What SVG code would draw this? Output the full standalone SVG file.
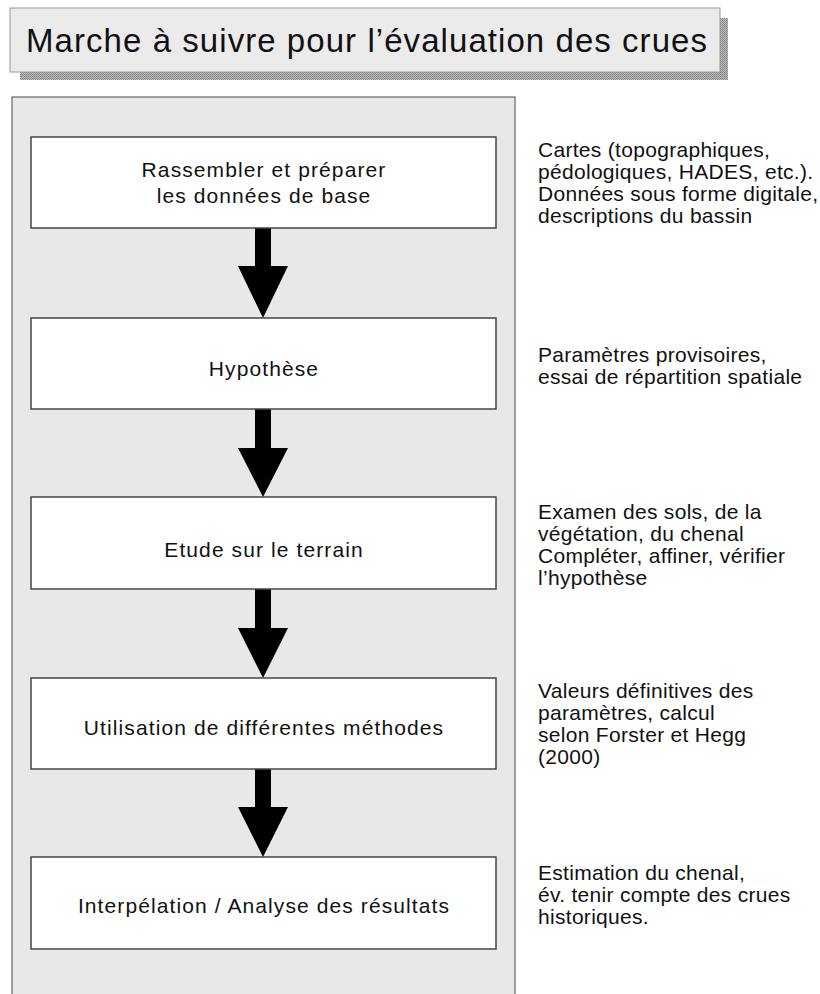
<svg xmlns="http://www.w3.org/2000/svg" width="820" height="994" viewBox="0 0 820 994">
<defs>
<style>
.t{font-family:"Liberation Sans",Arial,sans-serif;fill:#111;}
.title{font-size:33px;}
.box{fill:#fff;stroke:#444;stroke-width:1.5;}
.bt{font-size:21px;text-anchor:middle;letter-spacing:1.1px;}
.note{font-size:21px;letter-spacing:0.3px;}
.arrow{fill:#000;}
</style>
<pattern id="hatch" width="2" height="2" patternUnits="userSpaceOnUse">
<rect width="2" height="2" fill="#c4c4c4"/>
<rect width="1" height="1" fill="#7a7a7a"/>
<rect x="1" y="1" width="1" height="1" fill="#8a8a8a"/>
</pattern>
</defs>
<rect width="820" height="994" fill="#fff"/>
<g id="title">
<rect x="20" y="18" width="708" height="62" fill="url(#hatch)"/>
<rect x="10" y="8" width="710" height="64" fill="#ebebeb" stroke="#9a9a9a" stroke-width="1"/>
<text class="t title" x="26" y="52" textLength="681" lengthAdjust="spacing">Marche à suivre pour l’évaluation des crues</text>
</g>
<g id="frame">
<rect x="12" y="97" width="503" height="920" fill="#e8e8e8" stroke="#666" stroke-width="1.2"/>
</g>
<g id="connectors">
<polygon class="arrow" points="255,228 271,228 271,266 288,266 263,318 238,266 255,266"/>
<polygon class="arrow" points="255,409 271,409 271,448 288,448 263,497 238,448 255,448"/>
<polygon class="arrow" points="255,589 271,589 271,628 288,628 263,678 238,628 255,628"/>
<polygon class="arrow" points="255,769 271,769 271,807 288,807 263,857 238,807 255,807"/>
</g>
<g id="node1">
<rect class="box" x="31" y="137" width="465" height="91"/>
<text class="t bt" x="264" y="177">Rassembler et préparer</text>
<text class="t bt" x="264" y="203">les données de base</text>
</g>
<g id="node2">
<rect class="box" x="31" y="318" width="465" height="91"/>
<text class="t bt" x="264" y="376">Hypothèse</text>
</g>
<g id="node3">
<rect class="box" x="31" y="497" width="465" height="92"/>
<text class="t bt" x="264" y="557">Etude sur le terrain</text>
</g>
<g id="node4">
<rect class="box" x="31" y="678" width="465" height="91"/>
<text class="t bt" x="264" y="735">Utilisation de différentes méthodes</text>
</g>
<g id="node5">
<rect class="box" x="31" y="857" width="465" height="92"/>
<text class="t bt" x="264" y="913">Interpélation / Analyse des résultats</text>
</g>
<g id="notes">
<text class="t note" x="538" y="157">Cartes (topographiques,</text>
<text class="t note" x="538" y="179">pédologiques, HADES, etc.).</text>
<text class="t note" x="538" y="201">Données sous forme digitale,</text>
<text class="t note" x="538" y="223">descriptions du bassin</text>
<text class="t note" x="538" y="362">Paramètres provisoires,</text>
<text class="t note" x="538" y="384">essai de répartition spatiale</text>
<text class="t note" x="538" y="519">Examen des sols, de la</text>
<text class="t note" x="538" y="541">végétation, du chenal</text>
<text class="t note" x="538" y="563">Compléter, affiner, vérifier</text>
<text class="t note" x="538" y="585">l’hypothèse</text>
<text class="t note" x="538" y="698">Valeurs définitives des</text>
<text class="t note" x="538" y="720">paramètres, calcul</text>
<text class="t note" x="538" y="742">selon Forster et Hegg</text>
<text class="t note" x="538" y="764">(2000)</text>
<text class="t note" x="538" y="880">Estimation du chenal,</text>
<text class="t note" x="538" y="902">év. tenir compte des crues</text>
<text class="t note" x="538" y="924">historiques.</text>
</g>
</svg>
